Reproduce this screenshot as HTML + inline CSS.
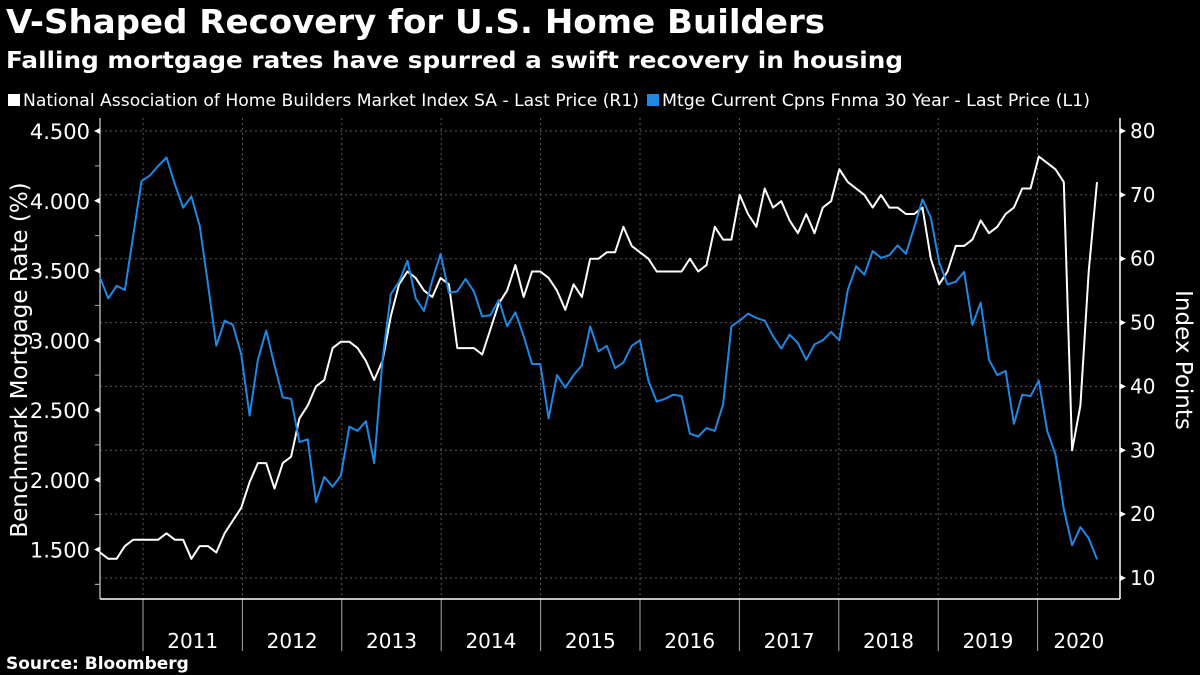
<!DOCTYPE html>
<html><head><meta charset="utf-8"><style>
html,body{margin:0;padding:0;background:#000;}
svg{display:block;font-family:"DejaVu Sans","Liberation Sans",sans-serif;}
</style></head><body>
<svg id="chart" width="1200" height="675" viewBox="0 0 1200 675">
<rect width="1200" height="675" fill="#000"/>
<text x="6" y="33" fill="#fff" font-size="33" font-weight="bold" textLength="819" lengthAdjust="spacingAndGlyphs">V-Shaped Recovery for U.S. Home Builders</text>
<text x="6" y="68" fill="#fff" font-size="23" font-weight="bold" textLength="897" lengthAdjust="spacingAndGlyphs">Falling mortgage rates have spurred a swift recovery in housing</text>
<g>
<rect x="8" y="94" width="12" height="12" fill="#fff"/>
<text x="23" y="106" fill="#fff" font-size="17" textLength="616" lengthAdjust="spacingAndGlyphs">National Association of Home Builders Market Index SA - Last Price (R1)</text>
<rect x="647" y="94" width="12" height="12" fill="#1e88e5"/>
<text x="662" y="106" fill="#fff" font-size="17" textLength="428" lengthAdjust="spacingAndGlyphs">Mtge Current Cpns Fnma 30 Year - Last Price (L1)</text>
</g>
<g id="grid"></g>
<g id="axes"></g>
<g id="series"></g>
<text transform="translate(27,360) rotate(-90)" text-anchor="middle" fill="#fff" font-size="23">Benchmark Mortgage Rate (%)</text>
<text transform="translate(1176,360) rotate(90)" text-anchor="middle" fill="#fff" font-size="23">Index Points</text>
<text x="6" y="669" fill="#fff" font-size="17" font-weight="bold">Source: Bloomberg</text>
</svg>
<script>
const years = ["2011","2012","2013","2014","2015","2016","2017","2018","2019","2020"];
const leftTicks = [1.5,2.0,2.5,3.0,3.5,4.0,4.5];
const leftTickLabels = ["1.500","2.000","2.500","3.000","3.500","4.000","4.500"];
const rightTicks = [10,20,30,40,50,60,70,80];
const mortgageRate = [3.45,3.30,3.39,3.36,3.75,4.14,4.18,4.25,4.31,4.12,3.95,4.03,3.82,3.40,2.96,3.14,3.11,2.90,2.46,2.86,3.07,2.82,2.59,2.58,2.27,2.29,1.84,2.02,1.95,2.03,2.38,2.35,2.42,2.12,2.86,3.33,3.42,3.57,3.30,3.21,3.43,3.62,3.34,3.35,3.44,3.35,3.17,3.18,3.29,3.10,3.20,3.03,2.83,2.83,2.44,2.75,2.66,2.75,2.82,3.10,2.92,2.96,2.80,2.84,2.96,3.00,2.71,2.56,2.58,2.61,2.60,2.33,2.31,2.37,2.35,2.54,3.10,3.14,3.19,3.16,3.14,3.03,2.94,3.04,2.98,2.86,2.97,3.00,3.06,3.00,3.36,3.53,3.47,3.64,3.59,3.61,3.68,3.62,3.81,4.01,3.88,3.56,3.40,3.42,3.49,3.11,3.27,2.86,2.75,2.78,2.40,2.61,2.60,2.71,2.35,2.18,1.79,1.53,1.66,1.58,1.43];
const nahbIndex = [14,13,13,15,16,16,16,16,17,16,16,13,15,15,14,17,19,21,25,28,28,24,28,29,35,37,40,41,46,47,47,46,44,41,44,51,56,58,57,55,54,57,56,46,46,46,45,49,53,55,59,54,58,58,57,55,52,56,54,60,60,61,61,65,62,61,60,58,58,58,58,60,58,59,65,63,63,70,67,65,71,68,69,66,64,67,64,68,69,74,72,71,70,68,70,68,68,67,67,68,60,56,58,62,62,63,66,64,65,67,68,71,71,76,75,74,72,30,37,58,72];

const NS="http://www.w3.org/2000/svg";
const X0=100,X1=1097,PL=100,PR=1120,PT=118,PB=599;
const yL=v=>131+(4.5-v)*139.5;
const yR=v=>131+(80-v)*(447/70);
const xAt=(i,n)=>X0+i*(X1-X0)/(n-1);
const yearX=k=>143+k*99.4;
function mk(tag,attrs,parent){const e=document.createElementNS(NS,tag);for(const k in attrs)e.setAttribute(k,attrs[k]);parent.appendChild(e);return e;}
const grid=document.getElementById('grid'),axes=document.getElementById('axes'),series=document.getElementById('series');

rightTicks.forEach(v=>{
  const l=mk('line',{x1:PL,x2:PR,y1:yR(v),y2:yR(v),stroke:'#5a5a5a','stroke-width':1,'stroke-dasharray':'2,3'},grid);
  
  
  const t=mk('polygon',{points:`${PR},${yR(v)-3} ${PR+6},${yR(v)} ${PR},${yR(v)+3}`,fill:'#fff'},axes);
  
  
  const tx=mk('text',{x:PR+10,y:yR(v)+7,fill:'#fff','font-size':20},axes);
  tx.textContent=v;
  
  
});
years.forEach((y,k)=>{
  const x=yearX(k);
  const g=mk('line',{x1:x,x2:x,y1:PT,y2:PB,stroke:'#5a5a5a','stroke-width':1,'stroke-dasharray':'2,3'},grid);
  
  
  const s=mk('line',{x1:x,x2:x,y1:PB,y2:651,stroke:'#aaa','stroke-width':1},axes);
  
  
  const nx=k<years.length-1?yearX(k+1):PR;
  const t=mk('text',{x:(x+nx)/2,y:648,fill:'#fff','font-size':20,'text-anchor':'middle'},axes);
  t.textContent=y;
  
  
});
const la=mk('line',{x1:PL,x2:PL,y1:PT,y2:PB,stroke:'#aaa','stroke-width':1.5},axes);


const ra=mk('line',{x1:PR,x2:PR,y1:PT,y2:PB,stroke:'#fff','stroke-width':1.5},axes);


const xa=mk('line',{x1:PL,x2:PR,y1:PB,y2:PB,stroke:'#fff','stroke-width':1.5},axes);


leftTicks.forEach((v,i)=>{
  const t=mk('polygon',{points:`${PL},${yL(v)-3} ${PL-6},${yL(v)} ${PL},${yL(v)+3}`,fill:'#fff'},axes);
  
  
  const tx=mk('text',{x:PL-10,y:yL(v)+8,fill:'#fff','font-size':21,'text-anchor':'end'},axes);
  tx.textContent=leftTickLabels[i];
  
  
  const m=v-0.25;
  if(m>1.2){const mt=mk('line',{x1:PL-5,x2:PL,y1:yL(m),y2:yL(m),stroke:'#aaa','stroke-width':1},axes);
  
  }
});
const mm=mk('line',{x1:PL-5,x2:PL,y1:yL(1.25),y2:yL(1.25),stroke:'#aaa','stroke-width':1},axes);



const pW=nahbIndex.map((v,i)=>xAt(i,nahbIndex.length).toFixed(1)+','+yR(v).toFixed(1)).join(' ');
const lw=mk('polyline',{points:pW,fill:'none',stroke:'#fff','stroke-width':2,'stroke-linejoin':'round'},series);


const pB=mortgageRate.map((v,i)=>xAt(i,mortgageRate.length).toFixed(1)+','+yL(v).toFixed(1)).join(' ');
const lb=mk('polyline',{points:pB,fill:'none',stroke:'#1e88e5','stroke-width':2,'stroke-linejoin':'round'},series);


</script>
</body></html>
